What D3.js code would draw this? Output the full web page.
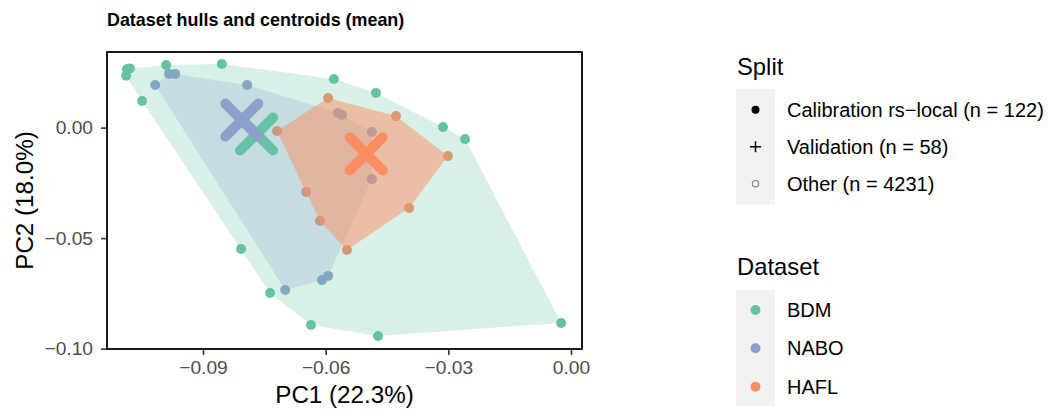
<!DOCTYPE html>
<html>
<head>
<meta charset="utf-8">
<script src="https://cdn.jsdelivr.net/npm/d3@7"></script>
<style>
  body { margin: 0; background: #fff; }
  text { font-family: "Liberation Sans", Arial, sans-serif; }
</style>
</head>
<body>
<div id="main"></div>
<script>
// ---------------- data (PCA scores) -----------------------------------//

let datasets = ['BDM', 'NABO', 'HAFL'];

let bdmPC1 = [-0.1086, -0.1079, -0.1088, -0.0990, -0.0854, -0.1049, -0.0580, -0.0477,
              -0.0313, -0.0259, -0.0024, -0.0472, -0.0636, -0.0736, -0.0807];
let bdmPC2 = [0.0265, 0.0268, 0.0235, 0.0283, 0.0288, 0.0120, 0.0220, 0.0157,
              0.0003, -0.0052, -0.0884, -0.0943, -0.0893, -0.0748, -0.0549];

let naboPC1 = [-0.1017, -0.0983, -0.0968, -0.0792, -0.0570, -0.0560, -0.0487, -0.0487,
               -0.0594, -0.0609, -0.0699];
let naboPC2 = [0.0193, 0.0243, 0.0243, 0.0193, 0.0066, 0.0057, -0.0020, -0.0233,
               -0.0671, -0.0690, -0.0735];

let haflPC1 = [-0.0594, -0.0428, -0.0301, -0.0396, -0.0548, -0.0614, -0.0648, -0.0719];
let haflPC2 = [0.0134, 0.0052, -0.0129, -0.0364, -0.0554, -0.0423, -0.0291, -0.0015];

// centroids (mean)
let centroidPC1 = [-0.0769, -0.0805, -0.0501];
let centroidPC2 = [-0.0029, 0.0034, -0.0119];

let xTicks = [-0.09, -0.06, -0.03, 0.00];
let yTicks = [0.00, -0.05, -0.10];

let splitLabels = ['Calibration rs\u2212local (n = 122)', 'Validation (n = 58)', 'Other (n = 4231)'];

// ---------------- global formatting vars -----------------//

let width = 1048;
let height = 410;
let colors = { BDM: '#66C2A5', NABO: '#8DA0CB', HAFL: '#FC8D62' };
let hullAlpha = { BDM: 0.25, NABO: 0.25, HAFL: 0.5 };

let panel = { left: 107, right: 582, top: 52, bottom: 349 };

let svg = d3.select("#main")
  .append("svg")
  .attr("width", width)
  .attr("height", height);

let xScale = d3.scaleLinear()
  .domain([-0.11348, 0.00269])
  .range([panel.left, panel.right]);

let yScale = d3.scaleLinear()
  .domain([-0.10018, 0.03421])
  .range([panel.bottom, panel.top]);

let points = {
  BDM: bdmPC1.map((x, i) => [x, bdmPC2[i]]),
  NABO: naboPC1.map((x, i) => [x, naboPC2[i]]),
  HAFL: haflPC1.map((x, i) => [x, haflPC2[i]])
};

// ---------------- title -----------------//

svg.append("text")
  .attr("x", panel.left)
  .attr("y", 26)
  .attr("font-size", 17.9)
  .attr("font-weight", "bold")
  .text("Dataset hulls and centroids (mean)");

// ---------------- points, then hulls on top -----------------//

let plot = svg.append("g");

datasets.forEach(function(ds) {
  plot.selectAll(".pt-" + ds)
    .data(points[ds])
    .enter()
    .append("circle")
    .attr("class", "pt-" + ds)
    .attr("cx", d => xScale(d[0]))
    .attr("cy", d => yScale(d[1]))
    .attr("r", 5)
    .attr("fill", colors[ds]);
});

datasets.forEach(function(ds) {
  let hull = d3.polygonHull(points[ds].map(d => [xScale(d[0]), yScale(d[1])]));
  plot.append("path")
    .attr("d", "M" + hull.join("L") + "Z")
    .attr("fill", colors[ds])
    .attr("fill-opacity", hullAlpha[ds])
    .attr("stroke", "none");
});

// centroids drawn as big X's
let arm = 16.5;
datasets.forEach(function(ds, i) {
  let cx = xScale(centroidPC1[i]);
  let cy = yScale(centroidPC2[i]);
  plot.append("path")
    .attr("d", `M${cx - arm},${cy - arm}L${cx + arm},${cy + arm}M${cx - arm},${cy + arm}L${cx + arm},${cy - arm}`)
    .attr("stroke", colors[ds])
    .attr("stroke-width", 10)
    .attr("stroke-linecap", "round")
    .attr("fill", "none");
});

// ---------------- axes -----------------//

let xAxis = d3.axisBottom(xScale)
  .tickValues(xTicks)
  .tickFormat(d3.format(".2f"))
  .tickSize(6)
  .tickPadding(5);

let yAxis = d3.axisLeft(yScale)
  .tickValues(yTicks)
  .tickFormat(d3.format(".2f"))
  .tickSize(6)
  .tickPadding(8);

let gx = svg.append("g")
  .attr("transform", `translate(0, ${panel.bottom})`)
  .call(xAxis);

let gy = svg.append("g")
  .attr("transform", `translate(${panel.left}, 0)`)
  .call(yAxis);

[gx, gy].forEach(function(g) {
  g.select(".domain").remove();
  g.selectAll(".tick line").attr("stroke", "#333333").attr("stroke-width", 1.6);
  g.selectAll(".tick text")
    .attr("fill", "#4D4D4D")
    .attr("font-size", 19.2)
    .attr("font-family", '"Liberation Sans", Arial, sans-serif');
});

svg.append("rect")
  .attr("x", panel.left)
  .attr("y", panel.top)
  .attr("width", panel.right - panel.left)
  .attr("height", panel.bottom - panel.top)
  .attr("fill", "none")
  .attr("stroke", "#000")
  .attr("stroke-width", 1.8);

svg.append("text")
  .attr("x", (panel.left + panel.right) / 2)
  .attr("y", 403)
  .attr("text-anchor", "middle")
  .attr("font-size", 24.2)
  .text("PC1 (22.3%)");

svg.append("text")
  .attr("transform", `translate(33, ${(panel.top + panel.bottom) / 2}) rotate(-90)`)
  .attr("text-anchor", "middle")
  .attr("font-size", 24.2)
  .text("PC2 (18.0%)");

// ---------------- legends -----------------//

let legendX = 736;
let keyW = 39;

// Split legend
svg.append("text")
  .attr("x", legendX + 1)
  .attr("y", 75)
  .attr("font-size", 23.8)
  .text("Split");

svg.append("rect")
  .attr("x", legendX).attr("y", 89)
  .attr("width", keyW).attr("height", 115.5)
  .attr("fill", "#F2F2F2");

let splitRows = [109.7, 146.7, 183.7];

splitLabels.forEach(function(label, i) {
  let cy = splitRows[i];
  let cx = legendX + keyW / 2;
  if (i === 0) {
    svg.append("circle").attr("cx", cx).attr("cy", cy).attr("r", 4).attr("fill", "#000");
  } else if (i === 1) {
    svg.append("path")
      .attr("d", `M${cx - 5.5},${cy}L${cx + 5.5},${cy}M${cx},${cy - 5.5}L${cx},${cy + 5.5}`)
      .attr("stroke", "#000").attr("stroke-width", 1.5);
  } else {
    svg.append("circle").attr("cx", cx).attr("cy", cy).attr("r", 3.2)
      .attr("fill", "none").attr("stroke", "#7F7F7F").attr("stroke-width", 1.1);
  }
  svg.append("text")
    .attr("x", 787)
    .attr("y", cy + 7)
    .attr("font-size", 20)
    .text(label);
});

// Dataset legend
svg.append("text")
  .attr("x", legendX + 1)
  .attr("y", 275)
  .attr("font-size", 23.8)
  .text("Dataset");

svg.append("rect")
  .attr("x", legendX).attr("y", 290)
  .attr("width", keyW).attr("height", 116)
  .attr("fill", "#F2F2F2");

let datasetRows = [310, 348.3, 386.7];

datasets.forEach(function(ds, i) {
  svg.append("circle")
    .attr("cx", legendX + keyW / 2)
    .attr("cy", datasetRows[i])
    .attr("r", 5)
    .attr("fill", colors[ds]);
  svg.append("text")
    .attr("x", 787)
    .attr("y", datasetRows[i] + 7)
    .attr("font-size", 20)
    .text(ds);
});
</script>
</body>
</html>
